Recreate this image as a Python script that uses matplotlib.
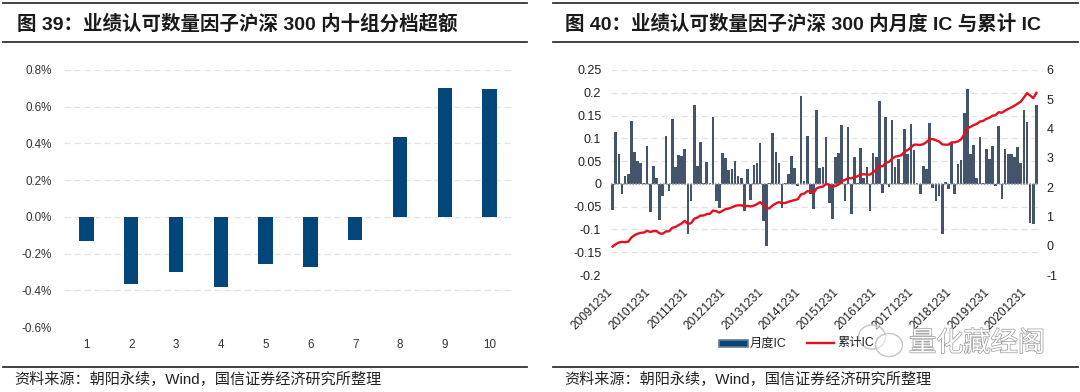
import matplotlib
matplotlib.use('Agg')
import matplotlib.pyplot as plt
import matplotlib.patheffects as pe
from matplotlib.lines import Line2D
from matplotlib.patches import Ellipse, Rectangle
from matplotlib.transforms import ScaledTranslation

W, H = 1080, 392
FONTS = ['Liberation Sans', 'Noto Sans CJK SC']
plt.rcParams['font.family'] = FONTS

groups = ['1', '2', '3', '4', '5', '6', '7', '8', '9', '10']
group_excess = [-0.13, -0.365, -0.30, -0.38, -0.255, -0.275, -0.125, 0.435, 0.70, 0.695]
left_ticks = [-0.6, -0.4, -0.2, 0.0, 0.2, 0.4, 0.6, 0.8]

monthly_ic = [
    -0.057, 0.113, 0.065, -0.023, 0.018, 0.021, 0.139, 0.07, 0.05, 0.045, 0.002, 0.083,
    -0.061, 0.039, 0.012, -0.079, -0.026, 0.105, -0.016, 0.143, 0.038, 0.064, 0.061, 0.076,
    -0.11, -0.037, 0.174, 0.039, 0.091, 0.003, 0.049, 0.002, 0.147, -0.037, -0.054, 0.068,
    0.057, 0.03, 0.033, 0.05, 0.017, 0.012, -0.059, 0.033, -0.036, 0.042, 0.046, 0.089,
    -0.082, -0.137, 0.002, 0.112, 0.07, 0.045, -0.052, 0.003, 0.021, 0.061, 0.035, -0.005,
    0.193, 0.007, 0.105, -0.023, -0.055, 0.162, 0.035, 0.038, 0.102, -0.043, -0.077, 0.06,
    0.067, 0.13, -0.038, 0.125, -0.066, 0.06, 0.003, 0.078, 0.012, 0.037, -0.06, 0.067,
    0.06, 0.181, -0.02, 0.146, -0.007, 0.14, 0.038, 0.055, 0.002, 0.121, 0.065, 0.131,
    0.075, 0.003, -0.023, 0.04, 0.033, 0.133, -0.009, -0.037, -0.026, -0.111, 0.004, -0.012,
    0.09, -0.022, 0.044, 0.052, 0.155, 0.209, 0.065, 0.085, 0.014, 0.104, 0.002, 0.076,
    0.055, 0.083, -0.005, 0.128, -0.033, 0.077, 0.065, 0.065, 0.058, 0.08, 0.046, 0.162,
    0.136, -0.085, -0.088, 0.173,
]
cumulative_ic = [
    -0.03, 0.05, 0.11, 0.13, 0.12, 0.14, 0.28, 0.36, 0.41, 0.44, 0.45, 0.51,
    0.47, 0.50, 0.50, 0.42, 0.41, 0.49, 0.49, 0.61, 0.64, 0.70, 0.76, 0.85,
    0.74, 0.77, 0.92, 0.96, 1.03, 1.03, 1.08, 1.09, 1.20, 1.18, 1.13, 1.19,
    1.25, 1.27, 1.31, 1.36, 1.38, 1.38, 1.35, 1.36, 1.34, 1.37, 1.42, 1.49,
    1.39, 1.27, 1.28, 1.38, 1.44, 1.49, 1.45, 1.46, 1.50, 1.53, 1.56, 1.59,
    1.75, 1.78, 1.86, 1.85, 1.80, 1.96, 2.00, 2.02, 2.11, 2.08, 2.01, 2.04,
    2.09, 2.21, 2.24, 2.31, 2.30, 2.34, 2.37, 2.43, 2.44, 2.43, 2.43, 2.50,
    2.60, 2.72, 2.71, 2.83, 2.86, 2.97, 3.04, 3.06, 3.09, 3.21, 3.27, 3.35,
    3.45, 3.45, 3.44, 3.47, 3.54, 3.64, 3.64, 3.60, 3.56, 3.46, 3.45, 3.45,
    3.53, 3.53, 3.56, 3.63, 3.80, 4.00, 4.06, 4.12, 4.16, 4.24, 4.26, 4.33,
    4.37, 4.44, 4.46, 4.56, 4.54, 4.61, 4.67, 4.72, 4.78, 4.85, 4.92, 5.06,
    5.21, 5.13, 5.04, 5.22,
]
date_labels = ['20091231', '20101231', '20111231', '20121231', '20131231', '20141231',
               '20151231', '20161231', '20171231', '20181231', '20191231', '20201231']
ic_ticks = [-0.2, -0.15, -0.1, -0.05, 0, 0.05, 0.1, 0.15, 0.2, 0.25]
ic_tick_labels = ['-0.2', '-0.15', '-0.1', '-0.05', '0', '0.05', '0.1', '0.15', '0.2', '0.25']
cum_ticks = [-1, 0, 1, 2, 3, 4, 5, 6]


def px_axes(fig, x0, y0, x1, y1):
    return fig.add_axes([x0 / W, 1 - y1 / H, (x1 - x0) / W, (y1 - y0) / H])


def hline(fig, x0, x1, y, lw):
    fig.add_artist(Line2D([x0 / W, x1 / W], [1 - y / H, 1 - y / H], color='#333333', lw=lw))


def clean(ax):
    for s in ax.spines.values():
        s.set_visible(False)
    ax.tick_params(length=0)
    ax.set_axisbelow(True)
    ax.grid(axis='y', color='#e2e2e2', lw=0.9, ls=(0, (5, 3)))


fig = plt.figure(figsize=(W / 100, H / 100), dpi=100)

# frame rules and headings
hline(fig, 3, 527, 3, 1.3)
hline(fig, 3, 527, 42, 1.3)
hline(fig, 553, 1078, 3, 1.3)
hline(fig, 553, 1078, 42, 1.3)
hline(fig, 3, 527, 367, 1.3)
hline(fig, 553, 1078, 367, 1.3)

fig.text(17 / W, 1 - 24 / H, '图 39：业绩认可数量因子沪深 300 内十组分档超额', fontsize=14,
         fontweight='bold', color='#1a1a1a', va='center')
fig.text(565 / W, 1 - 24 / H, '图 40：业绩认可数量因子沪深 300 内月度 IC 与累计 IC', fontsize=14,
         fontweight='bold', color='#1a1a1a', va='center')
source = '资料来源：朝阳永续，Wind，国信证券经济研究所整理'
fig.text(14 / W, 1 - 379 / H, source, fontsize=10.9, color='#222222', va='center')
fig.text(564 / W, 1 - 379 / H, source, fontsize=10.9, color='#222222', va='center')

# left chart
ax1 = px_axes(fig, 64, 70, 512, 327)
clean(ax1)
ax1.bar(range(len(groups)), group_excess, width=0.32, color='#03467a')
ax1.set_xlim(-0.5, len(groups) - 0.5)
ax1.set_ylim(-0.6, 0.8)
ax1.set_yticks(left_ticks)
ax1.set_yticklabels(['%.1f%%' % t for t in left_ticks], fontsize=8.4, color='#333333')
ax1.set_xticks(range(len(groups)))
ax1.set_xticklabels(groups, fontsize=8.4, color='#333333')
ax1.tick_params(axis='y', pad=9)
ax1.tick_params(axis='x', pad=9)

# right chart
ax2 = px_axes(fig, 611, 70, 1038, 275)
clean(ax2)
months = range(len(monthly_ic))
ax2.bar(months, monthly_ic, width=0.85, color='#44546a')
ax2.axhline(0, color='#8c96a3', lw=1.1, ls=(0, (1, 1)))
ax2.set_xlim(-0.5, len(monthly_ic) - 0.5)
ax2.set_ylim(-0.2, 0.25)
ax2.set_yticks(ic_ticks)
ax2.set_yticklabels(ic_tick_labels, fontsize=9, color='#222222')
ax2.set_xticks(list(months)[::12])
ax2.set_xticklabels(date_labels, fontsize=8.6, color='#222222', rotation=45,
                    ha='right', rotation_mode='anchor')
ax2.tick_params(axis='y', pad=7)
ax2.tick_params(axis='x', pad=8)
# date labels sit a little left of their ticks
shift = ScaledTranslation(-6 / 100, 0, fig.dpi_scale_trans)
for lab in ax2.get_xticklabels():
    lab.set_transform(lab.get_transform() + shift)

ax3 = ax2.twinx()
for s in ax3.spines.values():
    s.set_visible(False)
ax3.plot(months, cumulative_ic, color='#e3101e', lw=1.7)
ax3.set_ylim(-1, 6)
ax3.set_yticks(cum_ticks)
ax3.set_yticklabels([str(t) for t in cum_ticks], fontsize=9, color='#222222')
ax3.tick_params(axis='y', length=0, pad=6)

# legend, drawn in figure pixels so it sits like the reference
fig.add_artist(Rectangle((719 / W, 1 - 347 / H), 29 / W, 7 / H, facecolor='#03467a',
                         edgecolor='#6d7a8a', lw=1.2))
fig.text(750 / W, 1 - 343.5 / H, '月度IC', fontsize=8.8, color='#222222', va='center')
fig.add_artist(Line2D([807 / W, 834 / W], [1 - 342.5 / H] * 2, color='#e3101e', lw=1.7))
fig.text(837 / W, 1 - 343 / H, '累计IC', fontsize=8.8, color='#222222', va='center')

# watermark
for cx, cy, ew, eh in [(872, 337, 27, 24), (889, 345, 27, 23)]:
    fig.add_artist(Ellipse((cx / W, 1 - cy / H), ew / W, eh / H, facecolor=(1, 1, 1, 0.55),
                           edgecolor='#c4c4c4', lw=1.0))
fig.text(909 / W, 1 - 344 / H, '量化藏经阁', fontsize=19.6, color='white', va='center',
         path_effects=[pe.withStroke(linewidth=1.0, foreground='#9a9a9a')])

fig.savefig('out.png', dpi=100)
